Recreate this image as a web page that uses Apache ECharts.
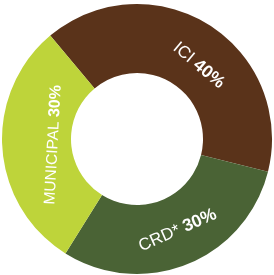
<!DOCTYPE html>
<html><head><meta charset="utf-8">
<script src="https://cdn.jsdelivr.net/npm/echarts@6/dist/echarts.min.js"></script>
<style>html,body{margin:0;padding:0;background:#fff}#c{width:274px;height:275px}</style>
</head><body><div id="c"></div>
<script>
const categories = ['ICI', 'CRD*', 'MUNICIPAL'];
const values = [40, 30, 30];
const pctLabels = ['40%', '30%', '30%'];
const colors = ['#5a331a', '#4a6335', '#bed43a'];
// label placement (style): polar angle (deg), radius (px), rotation (deg), font size
const labelAngle = [50, -66, 184];
const labelRadius = [96, 100, 84];
const labelRotate = [-40, 24, 87];
const labelSize = [17, 17, 15.5];
const cx = 137, cy = 139;

const chart = echarts.init(document.getElementById('c'), null, {renderer: 'canvas'});
const FF = 'Liberation Sans, Arial, sans-serif';
chart.setOption({
  animation: false,
  series: [{
    type: 'pie',
    center: [cx, cy],
    radius: [66, 135],
    startAngle: 130,
    clockwise: true,
    avoidLabelOverlap: false,
    itemStyle: {borderWidth: 0},
    emphasis: {disabled: true},
    labelLine: {show: false},
    labelLayout: function (p) {
      const i = p.dataIndex;
      const a = labelAngle[i] * Math.PI / 180;
      return {
        x: cx + labelRadius[i] * Math.cos(a),
        y: cy - labelRadius[i] * Math.sin(a),
        rotate: labelRotate[i],
        align: 'center',
        verticalAlign: 'middle'
      };
    },
    data: categories.map((n, i) => ({
      name: n, value: values[i], itemStyle: {color: colors[i]},
      label: {
        show: true, position: 'inside', color: '#fff', fontFamily: FF, fontSize: labelSize[i],
        formatter: n + ' {b|' + pctLabels[i] + '}',
        rich: {b: {fontWeight: 'bold', fontSize: labelSize[i] + 0.5, color: '#fff', fontFamily: FF}}
      }
    }))
  }]
});
</script></body></html>
